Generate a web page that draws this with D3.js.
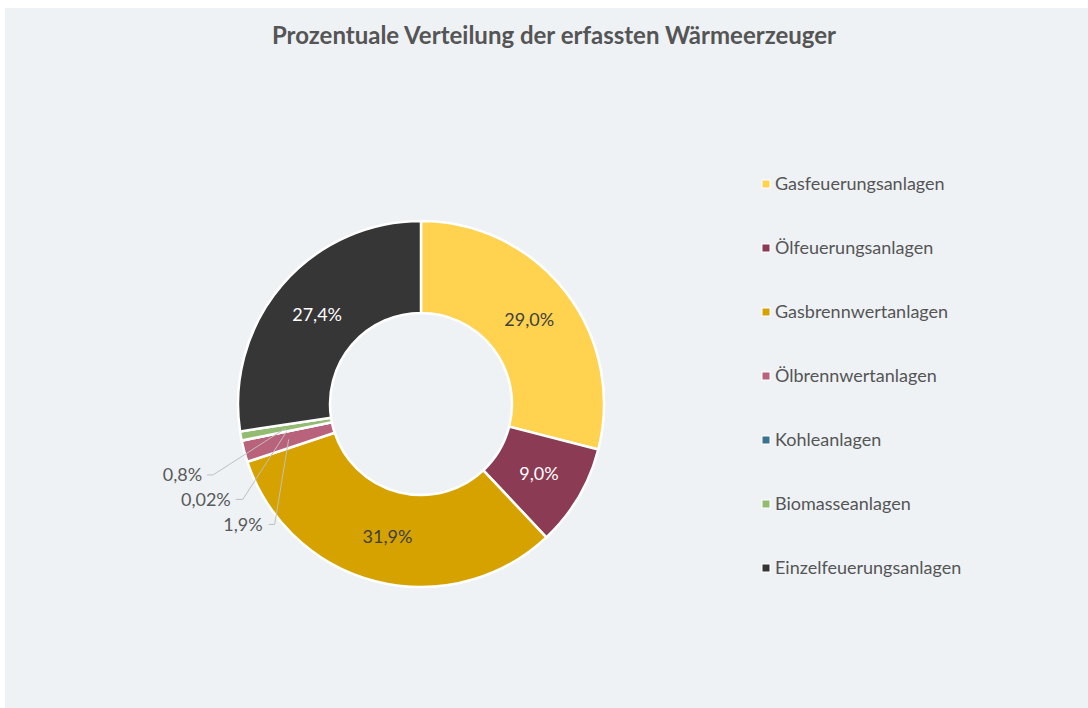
<!DOCTYPE html>
<html>
<head>
<meta charset="utf-8">
<script src="https://cdn.jsdelivr.net/npm/d3@7"></script>
<style>
  body { margin: 0; background: #ffffff; }
  svg { display: block; font-family: Lato, "Open Sans", sans-serif; }
</style>
</head>
<body>
<div id="chart"></div>
<script>
// data
var categories = ["Gasfeuerungsanlagen", "Ölfeuerungsanlagen", "Gasbrennwertanlagen",
    "Ölbrennwertanlagen", "Kohleanlagen", "Biomasseanlagen", "Einzelfeuerungsanlagen"];
var shares = [29.0, 9.0, 31.9, 1.9, 0.02, 0.8, 27.4];
var shareLabels = ["29,0%", "9,0%", "31,9%", "1,9%", "0,02%", "0,8%", "27,4%"];
var colors = ["#ffd24f", "#8b3b53", "#d6a200", "#b8637b", "#3b7191", "#93bb72", "#363636"];

var width = 1088, height = 708;
var cx = 421, cy = 404, outerR = 183, innerR = 91;

var svg = d3.select("#chart").append("svg")
    .attr("width", width)
    .attr("height", height);

svg.append("rect")
    .attr("x", 5).attr("y", 8)
    .attr("width", width - 5).attr("height", height - 8)
    .attr("fill", "#eef2f5");

svg.append("text")
    .attr("x", 554)
    .attr("y", 44)
    .attr("text-anchor", "middle")
    .style("font-size", "24px")
    .style("font-weight", "bold")
    .style("fill", "#555555")
    .text("Prozentuale Verteilung der erfassten Wärmeerzeuger");

var rows = categories.map(function(c, i) {
    return { name: c, value: shares[i], label: shareLabels[i], color: colors[i] };
});

var pie = d3.pie().sort(null).value(function(d) { return d.value; });
var arc = d3.arc().innerRadius(innerR).outerRadius(outerR);
var labelArc = d3.arc().innerRadius((innerR + outerR) / 2).outerRadius((innerR + outerR) / 2);

var g = svg.append("g").attr("transform", "translate(" + cx + "," + cy + ")");
var arcs = pie(rows);

g.selectAll("path.slice")
    .data(arcs)
    .enter()
    .append("path")
    .attr("class", "slice")
    .attr("d", arc)
    .attr("fill", function(d) { return d.data.color; })
    .attr("stroke", "#ffffff")
    .attr("stroke-width", 2.5)
    .attr("stroke-linejoin", "round");

// inside labels for the big slices, outside with leader lines for tiny ones
var outside = {
    "1,9%": { dx: -14, dy: 85, bend: 6, gap: 6 },
    "0,02%": { dx: -44, dy: 68, bend: 7, gap: 5 },
    "0,8%": { dx: -73, dy: 47, bend: 6, gap: 5 }
};

arcs.forEach(function(d) {
    var c = labelArc.centroid(d);
    var o = outside[d.data.label];
    if (!o) {
        g.append("text")
            .attr("x", c[0]).attr("y", c[1])
            .attr("text-anchor", "middle")
            .attr("dy", "0.35em")
            .style("font-size", "18px")
            .style("fill", (d.data.color === "#363636" || d.data.color === "#8b3b53") ? "#ffffff" : "#404040")
            .text(d.data.label);
    } else {
        var ex = c[0] + o.dx, ey = c[1] + o.dy;
        g.append("polyline")
            .attr("points", [c, [ex, ey], [ex - o.bend, ey]].map(function(p) { return p.join(","); }).join(" "))
            .attr("fill", "none")
            .attr("stroke", "#bfbfbf")
            .attr("stroke-width", 1);
        g.append("text")
            .attr("x", ex - o.bend - o.gap).attr("y", ey)
            .attr("text-anchor", "end")
            .attr("dy", "0.35em")
            .style("font-size", "18px")
            .style("fill", "#595959")
            .text(d.data.label);
    }
});

// legend
var legend = svg.append("g").attr("transform", "translate(762,184)");
var item = legend.selectAll("g.item")
    .data(rows)
    .enter()
    .append("g")
    .attr("class", "item")
    .attr("transform", function(d, i) { return "translate(0," + (i * 64) + ")"; });

item.append("rect")
    .attr("x", 0).attr("y", -4)
    .attr("width", 8).attr("height", 8)
    .attr("fill", function(d) { return d.color; })
    .attr("stroke", "#ffffff")
    .attr("stroke-width", 1);

item.append("text")
    .attr("x", 13)
    .attr("dy", "0.35em")
    .style("font-size", "18px")
    .style("fill", "#555555")
    .text(function(d) { return d.name; });
</script>
</body>
</html>
